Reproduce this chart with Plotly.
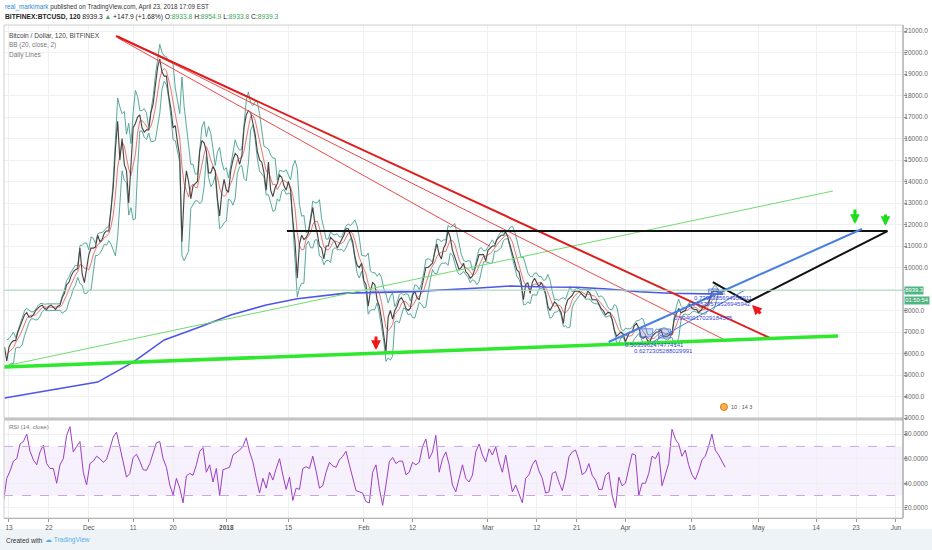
import pandas as pd
import plotly.graph_objects as go

# ---------------- data ----------------
# 12-hour closes, BITFINEX:BTCUSD, from 2017-11-12 00:00
nov = [6300, 5650, 6300, 6500, 6600, 6600, 7000, 7300, 7500, 7800, 7900, 7700, 7700, 7800,
       8000, 8100, 8200, 8250, 8100, 8050, 8200, 8250, 8150, 8050, 8200, 8250, 8600, 8800,
       9200, 9300, 9600, 9800, 9900, 9950, 10900, 9700, 9300, 9950]
dec = [10600, 10900, 10900, 10950, 11500, 11200, 11300, 11600, 11700, 11700, 12600, 13700,
       15500, 16800, 15000, 16000, 14800, 14500, 13000, 14800, 16500, 16700, 17000, 17100,
       16500, 16300, 16400, 16400, 17200, 17600, 18500, 19300, 19700, 19100, 18900, 18900,
       18000, 17400, 16500, 16600, 15800, 15200, 11200, 13400, 14500, 14000, 13200, 13800,
       13900, 14000, 15400, 15900, 15800, 15400, 14400, 14400, 14700, 14500, 13200, 12400,
       13500, 14100]
jan = [13600, 13500, 14500, 15000, 15300, 15200, 14800, 15200, 16500, 17100, 17300, 17200,
       16700, 16200, 15400, 15000, 14900, 14400, 13600, 14900, 13600, 13300, 13700, 13900,
       14300, 14200, 13800, 13600, 14000, 13600, 12200, 11200, 9500, 11100, 11500, 11300,
       11400, 11600, 12200, 12800, 12000, 11600, 11000, 10900, 10400, 11000, 11000, 11400,
       11300, 11200, 10900, 11100, 11300, 11500, 11800, 11800, 11500, 11200, 10500, 10100,
       10000, 10200]
feb = [9400, 9200, 8200, 8900, 9300, 9200, 8500, 8200, 7600, 6900, 6100, 7700, 8000, 7600,
       8000, 8200, 8500, 8600, 8400, 8100, 8000, 8100, 8700, 8900, 8600, 8500, 9100, 9500,
       10000, 10000, 10100, 10200, 10700, 11100, 10600, 10400, 10900, 11100, 11700, 11400,
       10800, 10500, 10200, 9900, 10000, 10200, 9800, 9700, 9500, 9600, 9900, 10300,
       10600, 10600, 10600, 10300]
mar = [10800, 10900, 11000, 11000, 11300, 11400, 11500, 11500, 11650, 11400, 11000, 10700,
       10200, 9900, 9800, 9300, 8500, 9200, 9300, 8800, 9300, 9500, 9300, 9100, 9300, 9100,
       8800, 8200, 8000, 8200, 8400, 8300, 8100, 7900, 7400, 8200, 8500, 8600, 8700, 8900,
       8900, 8900, 8800, 8700, 8600, 8900, 8800, 8500, 8500, 8500, 8300, 8100, 8000, 7800,
       7900, 7900, 7600, 7100, 6800, 6900, 7000, 6900]
apr = [6550, 6800, 7000, 7000, 7300, 7400, 7200, 6800, 6700, 6800, 6600, 6550, 6800, 6900,
       7000, 7000, 7100, 6800, 6800, 6800, 6900, 6900, 7600, 7900, 8100, 7900, 7950, 8000,
       8200, 8300, 8100, 8050, 8050, 7900, 8000, 8150, 8200, 8250, 8500, 8850, 8900, 8900,
       8850, 8800, 8900, 8940]
close = nov + dec + jan + feb + mar + apr
price_start = "2017-11-12 00:00"

# "Daily Lines" long moving average (blue)
ma_dates = ["2017-11-12", "2017-11-26", "2017-12-03", "2017-12-11", "2017-12-18", "2017-12-26",
            "2018-01-02", "2018-01-10", "2018-01-17", "2018-01-28", "2018-02-12", "2018-02-27",
            "2018-03-06", "2018-03-14", "2018-03-21", "2018-03-28", "2018-04-04", "2018-04-11",
            "2018-04-23"]
ma_vals = [3930, 4400, 4670, 5600, 6630, 7230, 7790, 8260, 8550, 8810, 8880, 9050,
           9140, 9090, 9080, 9000, 8870, 8800, 8760]

# RSI(14) read every 18 hours from 2017-11-11 18:00
rsi_a = [25, 44, 50, 58, 60, 72, 74, 80, 66, 59,
         55, 65.5, 71, 56, 52, 52, 40, 55, 60, 79,
         86, 65.5, 70, 74, 49, 38.6, 56, 58, 62, 60,
         57, 59.5, 68, 77.6, 81.6, 70, 56, 45, 48, 61,
         63.5, 58, 51, 50.5, 56, 64, 73, 74, 60, 53,
         38.6, 30.5, 44, 36, 24, 46, 48, 46.5, 55, 66,
         69, 49, 55, 41, 52, 30, 51, 52, 53, 63,
         65, 67, 70, 77, 65.5, 57.4, 44, 32, 44, 36,
         49, 42.6, 52, 60, 46.7, 35, 45, 26, 36, 35,
         52, 53.5, 52]
rsi_b = [62, 50, 36, 38, 49, 57, 54, 53, 59, 62,
         66, 55, 44, 34, 33, 32, 25, 24, 49, 55,
         36, 22, 38.6, 57.4, 61, 56, 58, 58, 47, 49,
         57, 55, 57, 70, 76, 60, 65.5, 79, 49, 60,
         65.5, 55, 38.6, 33, 44, 55, 44, 41, 46.7, 65.5,
         72, 63, 57.4, 68, 63, 69.5, 57.4, 49, 63, 49,
         33, 38.6, 30.5, 24, 44, 47, 55, 59, 50, 44,
         32, 33, 48, 49.5, 41, 34, 45, 61.5, 65.5, 67,
         59, 47, 49, 56, 46.5, 42.5, 35, 35, 46.5, 49]
rsi_c = [30.5, 20, 45, 38, 40, 53, 64, 63, 30, 40,
         40, 48, 62, 60, 65.5, 38, 48, 56, 84, 76,
         72, 62, 67, 55, 47, 43, 50, 59, 62, 70,
         80, 67, 63, 58, 53]
rsi = rsi_a + rsi_b + rsi_c
rsi_start = "2017-11-11 18:00"

# drawn trend lines (date, price) end points
red_thick = [("2017-12-07 03:00", 20767), ("2018-05-03 14:00", 6721)]
red_thin_a = [("2017-12-07 14:00", 20767), ("2018-04-23 00:00", 6674)]
red_thin_b = [("2017-12-07 14:00", 20674), ("2018-03-01 11:00", 10986)]
green_thick = [("2017-11-11 21:00", 5372), ("2018-05-18 22:00", 6814)]
green_thin = [("2017-11-12 02:00", 5419), ("2018-05-17 19:00", 13558)]
black_level = [("2018-01-14 16:00", 11697), ("2018-05-30 02:00", 11697)]
black_path = [("2018-04-20 17:00", 9325), ("2018-04-28 15:00", 8395), ("2018-05-30 02:00", 11697)]
blue_thick = [("2018-03-28 05:00", 6535), ("2018-05-24 08:00", 11790)]
blue_thin = [("2018-04-07 03:00", 6535), ("2018-04-27 23:00", 8953)]
boxes = [("2018-04-04 06:00", "2018-04-07 04:00", 6770, 7150),
         ("2018-04-08 12:00", "2018-04-11 04:00", 6720, 7140),
         ("2018-04-19 18:00", "2018-04-22 00:00", 8780, 9000)]
fib_labels = [("2018-03-31 10:00", 6395, "0.5035962474774141"),
              ("2018-04-02 12:00", 6116, "0.6272305288029991"),
              ("2018-04-11 12:00", 7651, "0.9940017029184575"),
              ("2018-04-16 00:00", 8560, "0.7398385694953911"),
              ("2018-04-15 12:00", 8300, "0.6537579526945942")]
arrows = [("2018-02-03 18:00", 6160, 0, -15, "#f01818"),
          ("2018-04-29 13:00", 8256, 10, 10, "#f01818"),
          ("2018-05-22 18:00", 12023, 0, -16, "#19e019"),
          ("2018-05-29 15:00", 11930, 0, -13, "#19e019")]
last_price = 8939.3
price_ticks = list(range(3000, 21001, 1000))
hidden_price_tick = 9000  # covered by the last-price box in the reference
rsi_ticks = [20, 40, 60, 80]
x_tick_dates = ["2017-11-13", "2017-11-22", "2017-12-01", "2017-12-11", "2017-12-20",
                "2018-01-01", "2018-01-15", "2018-02-01", "2018-02-12", "2018-03-01",
                "2018-03-12", "2018-03-21", "2018-04-01", "2018-04-16", "2018-05-01",
                "2018-05-14", "2018-05-23", "2018-06-01"]
x_tick_text = ["13", "22", "Dec", "11", "20", "<b>2018</b>", "15", "Feb", "12", "Mar",
               "12", "21", "Apr", "16", "May", "14", "23", "Jun"]
x_range = ["2017-11-11 21:00", "2018-06-02 14:00"]

# ---------------- derived series ----------------
dates = pd.date_range(price_start, periods=len(close), freq="12h")
s = pd.Series(close, index=dates, dtype=float)
mid = s.rolling(4, min_periods=2).mean()
sd = s.rolling(4, min_periods=2).std(ddof=0)
upper = mid + 2 * sd
lower = mid - 2 * sd
rsi_dates = pd.date_range(rsi_start, periods=len(rsi), freq="18h")

# ---------------- layout geometry ----------------
W, H = 932, 550
ML, MR, MT, MB = 4, 29, 25, 32
PW, PH = W - ML - MR, H - MT - MB


def px(x):
    return (x - ML) / PW


def py(y):
    return (H - MB - y) / PH


main_dom = [py(418), 1]
rsi_dom = [0, py(420)]
FONT = "Liberation Sans, Arial, sans-serif"
GRID = "#eef0f3"

fig = go.Figure()

# Bollinger bands
fig.add_trace(go.Scatter(x=dates, y=upper, mode="lines", line=dict(color="#4c9e93", width=0.9),
                         hoverinfo="skip", showlegend=False))
fig.add_trace(go.Scatter(x=dates, y=lower, mode="lines", line=dict(color="#4c9e93", width=0.9),
                         fill="tonexty", fillcolor="rgba(76,158,147,0.05)",
                         hoverinfo="skip", showlegend=False))
fig.add_trace(go.Scatter(x=dates, y=mid, mode="lines", line=dict(color="rgba(225,80,80,0.85)", width=0.9),
                         showlegend=False))
fig.add_trace(go.Scatter(x=dates, y=s, mode="lines", line=dict(color="#4a4242", width=1.1),
                         showlegend=False))
# Daily line (blue MA)
fig.add_trace(go.Scatter(x=ma_dates, y=ma_vals, mode="lines", line=dict(color="#4f55e6", width=1.6),
                         showlegend=False))


def seg(points, color, width):
    fig.add_trace(go.Scatter(x=[p[0] for p in points], y=[p[1] for p in points], mode="lines",
                             line=dict(color=color, width=width), showlegend=False,
                             hoverinfo="skip"))


seg(green_thin, "#6fdc6f", 1.0)
seg(red_thin_a, "#ea4b4b", 1.0)
seg(red_thin_b, "#ea4b4b", 1.0)
seg(red_thick, "#e01b1b", 2.0)
seg(green_thick, "#2ee82e", 3.6)
seg(black_level, "#111111", 2.0)
seg(black_path, "#111111", 2.0)
seg(blue_thick, "#4a80e0", 2.0)
seg(blue_thin, "#4a80e0", 1.0)

# RSI
fig.add_trace(go.Scatter(x=rsi_dates, y=rsi, mode="lines", line=dict(color="#9c3fc4", width=1.0),
                         xaxis="x2", yaxis="y2", showlegend=False))

shapes = []
# RSI band
shapes.append(dict(type="rect", xref="paper", yref="y2", x0=0, x1=1, y0=30, y1=70,
                   fillcolor="rgba(156,60,230,0.08)", line=dict(width=0), layer="below"))
for lvl in (30, 70):
    shapes.append(dict(type="line", xref="paper", yref="y2", x0=0, x1=1, y0=lvl, y1=lvl,
                       line=dict(color="#c9a6de", width=1, dash="dash")))
# last price line
shapes.append(dict(type="line", xref="paper", yref="y", x0=0, x1=1, y0=last_price, y1=last_price,
                   line=dict(color="#a8dcbc", width=1)))
# drawn boxes
for x0, x1, y0, y1 in boxes:
    shapes.append(dict(type="rect", xref="x", yref="y", x0=x0, x1=x1, y0=y0, y1=y1,
                       fillcolor="rgba(80,110,230,0.25)", line=dict(color="#5a6fe0", width=0.8)))
# frames
shapes.append(dict(type="rect", xref="paper", yref="paper", x0=0, x1=1, y0=main_dom[0], y1=1,
                   line=dict(color="#d0d0d0", width=1)))
shapes.append(dict(type="rect", xref="paper", yref="paper", x0=0, x1=1, y0=0, y1=rsi_dom[1],
                   line=dict(color="#d0d0d0", width=1)))
shapes.append(dict(type="line", xref="paper", yref="paper", x0=0, x1=1, y0=py(419), y1=py(419),
                   line=dict(color="#c4c4c4", width=2.5)))
shapes.append(dict(type="line", xref="paper", yref="paper", x0=1, x1=1, y0=0, y1=1,
                   line=dict(color="#9a9a9a", width=1)))
# footer strip
shapes.append(dict(type="rect", xref="paper", yref="paper", x0=px(0), x1=px(W), y0=py(H), y1=py(529),
                   fillcolor="#eef3f8", line=dict(width=0), layer="below"))

ann = []


def ptext(x, y, text, size=7.5, color="#333", anchor="left"):
    ann.append(dict(xref="paper", yref="paper", x=px(x), y=py(y), text=text, showarrow=False,
                    xanchor=anchor, yanchor="middle", font=dict(family=FONT, size=size, color=color)))


G = "#3aa655"
ptext(3, 7, "<span style='color:#2a8ad4'>real_markimark</span> published on TradingView.com, April 23, 2018 17:09 EST",
      6.3, "#333")
ptext(3, 17, "<b>BITFINEX:BTCUSD, 120</b> 8939.3 <span style='color:%s'>▲</span> +147.9 (+1.68%%) "
             "O:<span style='color:%s'>8933.8</span> H:<span style='color:%s'>8954.9</span> "
             "L:<span style='color:%s'>8933.8</span> C:<span style='color:%s'>8939.3</span>" % (G, G, G, G, G),
      6.7, "#222")
ptext(7, 35, "Bitcoin / Dollar, 120, BITFINEX", 6.6, "#444")
ptext(7, 45, "BB (20, close, 2)", 6.4, "#777")
ptext(7, 55, "Daily Lines", 6.5, "#777")
ptext(7, 427, "RSI (14, close)", 6.0, "#777")
ptext(4, 540, "Created with", 6.5, "#333")
ptext(43, 540, "<span style='color:#5aaee6'>☁</span> TradingView", 6.5, "#5aaee6")

# price labels on the axis
ann.append(dict(xref="paper", yref="y", x=px(904), y=last_price, text="8939.3", showarrow=False,
                xanchor="left", yanchor="middle", bgcolor="#4fb583", borderpad=0.3,
                font=dict(family=FONT, size=5.8, color="white")))
ann.append(dict(xref="paper", yref="paper", x=px(904), y=py(300.5), text="01:50:54", showarrow=False,
                xanchor="left", yanchor="middle", bgcolor="#4fb583", borderpad=0.3,
                font=dict(family=FONT, size=5.8, color="white")))

for xd, yv, txt in fib_labels:
    ann.append(dict(xref="x", yref="y", x=xd, y=yv, text=txt, showarrow=False, xanchor="left",
                    yanchor="middle", font=dict(family=FONT, size=6, color="#3a46d8")))

for xd, yv, axp, ayp, col in arrows:
    ann.append(dict(xref="x", yref="y", x=xd, y=yv, ax=axp, ay=ayp, text="", showarrow=True,
                    arrowhead=2, arrowsize=0.65, arrowwidth=3, arrowcolor=col))

# event icon
fig.add_trace(go.Scatter(x=["2018-04-23 05:00"], y=[3512], mode="markers",
                         marker=dict(size=7, color="#f7b24a", line=dict(color="#e07a10", width=1)),
                         showlegend=False, hoverinfo="skip"))
ann.append(dict(xref="x", yref="y", x="2018-04-24 08:00", y=3512, text="10 : 14 3", showarrow=False,
                xanchor="left", yanchor="middle", font=dict(family=FONT, size=5.5, color="#555")))

price_ticktext = ["" if v == hidden_price_tick else "%d.0" % v for v in price_ticks]

fig.update_layout(
    width=W, height=H, margin=dict(l=ML, r=MR, t=MT, b=MB, autoexpand=False),
    paper_bgcolor="white", plot_bgcolor="white", showlegend=False,
    font=dict(family=FONT, size=7, color="#555"),
    shapes=shapes, annotations=ann,
    xaxis=dict(domain=[0, 1], anchor="y", type="date", range=x_range, matches="x2",
               tickvals=x_tick_dates, showticklabels=False, showgrid=True, gridcolor=GRID,
               zeroline=False, ticks=""),
    xaxis2=dict(domain=[0, 1], anchor="y2", type="date", range=x_range,
                tickvals=x_tick_dates, ticktext=x_tick_text, showgrid=True, gridcolor=GRID,
                tickfont=dict(family=FONT, size=6.5, color="#555"), ticks="outside", ticklen=3,
                tickcolor="#999", showline=True, linecolor="#9a9a9a", zeroline=False),
    yaxis=dict(domain=main_dom, anchor="x", side="right", range=[3000, 21280],
               tickvals=price_ticks, ticktext=price_ticktext,
               showgrid=True, gridcolor=GRID, zeroline=False, ticks="outside", ticklen=3,
               tickcolor="#999", ticklabelstandoff=-4,
               tickfont=dict(family=FONT, size=6.5, color="#666")),
    yaxis2=dict(domain=rsi_dom, anchor="x2", side="right", range=[11.7, 91.5],
                tickvals=rsi_ticks, ticktext=["%d.0000" % v for v in rsi_ticks],
                showgrid=True, gridcolor=GRID, zeroline=False, ticks="outside", ticklen=3,
                tickcolor="#999", ticklabelstandoff=-4,
                tickfont=dict(family=FONT, size=6.5, color="#666")),
)

fig.write_html("out.html", config={"displayModeBar": False},
               post_script="document.body.style.margin='0px';document.body.style.overflow='hidden';")
